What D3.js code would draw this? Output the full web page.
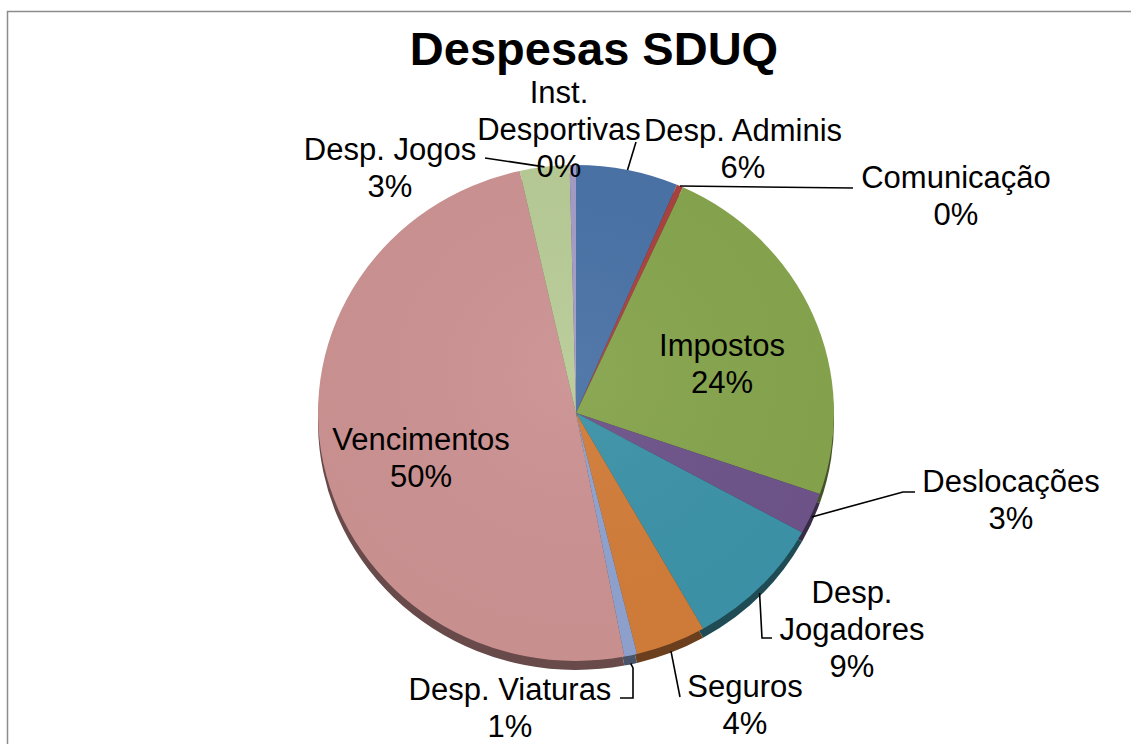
<!DOCTYPE html>
<html>
<head>
<meta charset="utf-8">
<script src="https://cdn.jsdelivr.net/npm/d3@7"></script>
<style>
  body { margin: 0; background: #fff; }
  svg { display: block; font-family: "Liberation Sans", Arial, sans-serif; }
</style>
</head>
<body>
<div id="chart"></div>
<script>
// data
var categories = ["Desp. Adminis", "Comunicação", "Impostos", "Deslocações", "Desp. Jogadores",
  "Seguros", "Desp. Viaturas", "Vencimentos", "Desp. Jogos", "Inst. Desportivas"];
var values = [6.4, 0.4, 23.5, 2.7, 8.8, 4.4, 0.8, 49.5, 3.1, 0.4];
var colors = ["#4a72a6", "#a9413e", "#86a44d", "#6e548a", "#3d93a8",
  "#d27d3a", "#8fa3cf", "#cc9292", "#b7cb96", "#a59cc6"];

// label layout: [x, first baseline, wrap name?]
var labelPos = [[743, 141, false], [956, 188, false], [722, 356, false], [1011, 492, false], [852, 603, true],
  [745, 697, false], [510, 700, false], [421, 450, false], [390, 160, false], [559, 103, true]];
// leader line points after the start on the pie edge (null = no leader)
var leaders = [[[636, 142]], [[853, 188]], null, [[903, 492], [915, 492]], [[762, 638], [772, 638]],
  [[680, 697]], [[633, 668], [633, 698], [620, 698]], null, [[485, 158]], null];

var W = 1131, H = 744,
  cx = 576, cy = 413, rx = 258, ry = 248, depth = 9,
  lineH = 37;

var svg = d3.select("#chart").append("svg")
  .attr("width", W)
  .attr("height", H);

svg.append("rect")
  .attr("x", 7.5).attr("y", 11.5)
  .attr("width", W + 10).attr("height", H + 10)
  .attr("fill", "none")
  .attr("stroke", "#8c8c8c")
  .attr("stroke-width", 1.5);

svg.append("text")
  .attr("x", 594).attr("y", 65)
  .attr("text-anchor", "middle")
  .attr("font-size", 47)
  .attr("font-weight", "bold")
  .text("Despesas SDUQ");

var pie = d3.pie().sort(null).value(function(d) { return d; });
var arcs = pie(values);
var arc = d3.arc().innerRadius(0).outerRadius(ry);
var total = d3.sum(values);

// side of the disc (3D depth)
var sideG = svg.append("g")
  .attr("transform", "translate(" + cx + "," + (cy + depth) + ") scale(" + (rx / ry) + ",1)");
sideG.selectAll("path")
  .data(arcs)
  .enter()
  .append("path")
  .attr("d", arc)
  .attr("fill", function(d, i) { return d3.color(colors[i]).darker(1.9); });

var grad = svg.append("defs").append("radialGradient")
  .attr("id", "shade")
  .attr("gradientUnits", "userSpaceOnUse")
  .attr("cx", 0).attr("cy", -40).attr("r", ry * 1.1);
grad.append("stop").attr("offset", "0%").attr("stop-color", "#fff").attr("stop-opacity", 0.05);
grad.append("stop").attr("offset", "100%").attr("stop-color", "#000").attr("stop-opacity", 0.02);

var topG = svg.append("g")
  .attr("transform", "translate(" + cx + "," + cy + ") scale(" + (rx / ry) + ",1)");
topG.selectAll("path.slice")
  .data(arcs)
  .enter()
  .append("path")
  .attr("class", "slice")
  .attr("d", arc)
  .attr("fill", function(d, i) { return colors[i]; });
topG.append("ellipse")
  .attr("rx", ry).attr("ry", ry)
  .attr("fill", "url(#shade)");

// leader lines
var lineGen = d3.line();
arcs.forEach(function(d, i) {
  if (!leaders[i]) return;
  var a = (d.startAngle + d.endAngle) / 2;
  var sx = cx + rx * Math.sin(a),
    sy = cy - ry * Math.cos(a) + Math.max(0, -Math.cos(a)) * depth * 0.9;
  var pts = [[sx, sy]].concat(leaders[i]);
  svg.append("path")
    .attr("d", lineGen(pts))
    .attr("fill", "none")
    .attr("stroke", "#000")
    .attr("stroke-width", 1.6);
});

// labels
arcs.forEach(function(d, i) {
  var name = categories[i];
  var lines = labelPos[i][2] ? [name.slice(0, name.indexOf(" ")), name.slice(name.indexOf(" ") + 1)] : [name];
  lines.push(Math.round(d.data / total * 100) + "%");
  var t = svg.append("text")
    .attr("text-anchor", "middle")
    .attr("font-size", 31)
    .attr("fill", "#000");
  lines.forEach(function(s, k) {
    t.append("tspan")
      .attr("x", labelPos[i][0])
      .attr("y", labelPos[i][1] + k * lineH)
      .text(s);
  });
});
</script>
</body>
</html>
